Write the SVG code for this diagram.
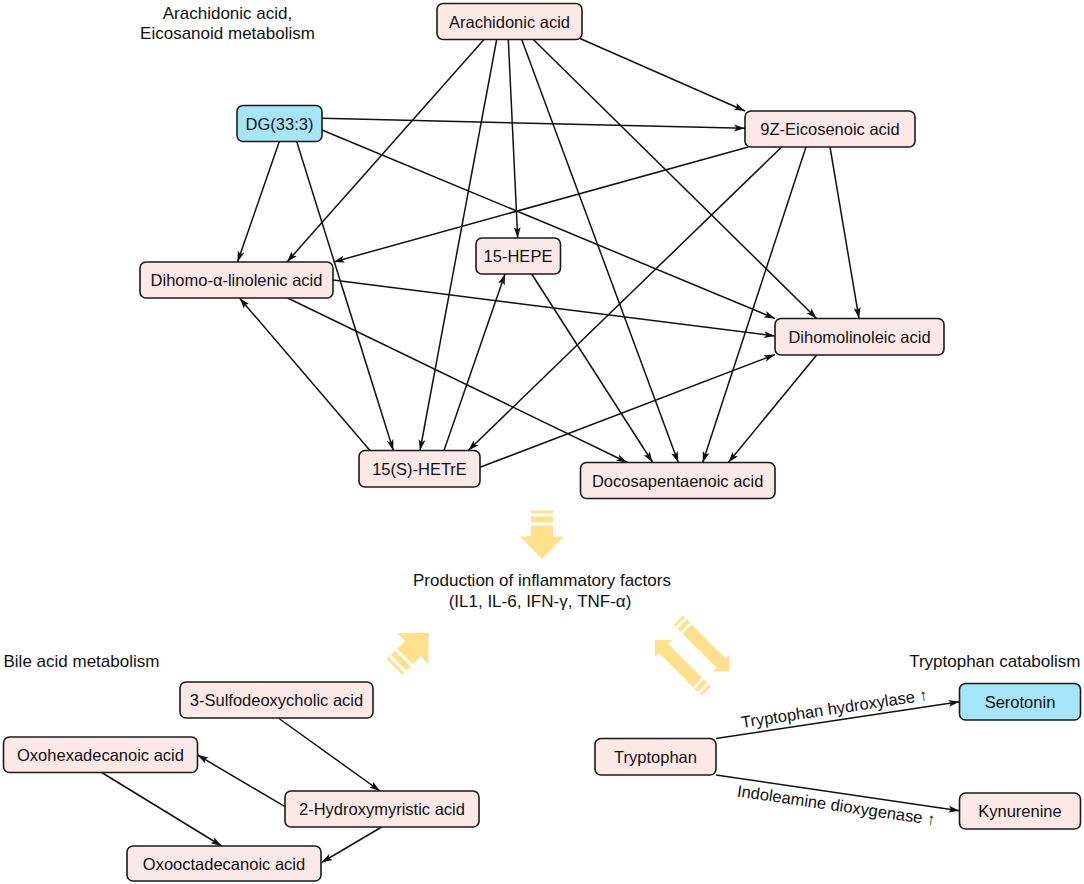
<svg xmlns="http://www.w3.org/2000/svg" width="1084" height="884" viewBox="0 0 1084 884">
<style>
.node rect{stroke:#1a1a1a;stroke-width:1.6}
.pink rect{fill:#FDE8E8}
.blue rect{fill:#A6E4F7}
text{font-family:"Liberation Sans",Arial,sans-serif;fill:#111}
.lbl{font-size:16.5px;text-anchor:middle}
.ttl{font-size:17px}
.edges line{stroke:#111;stroke-width:1.5;marker-end:url(#ah)}
.ya{fill:#FFE08C}
</style>
<defs>
<marker id="ah" viewBox="0 0 11 8" refX="11" refY="4" markerWidth="11" markerHeight="8" markerUnits="userSpaceOnUse" orient="auto">
<path d="M0,0.5 L11,4 L0,7.5 L2.5,4 z" fill="#111"/>
</marker>
<g id="bigArrow">
<polygon points="-22,-22.5 22,-22.5 0,0"/>
<rect x="-11" y="-33.5" width="22" height="11.5"/>
<rect x="-11" y="-42.5" width="22" height="6"/>
<rect x="-11" y="-48.5" width="22" height="3"/>
</g>
<g id="smallArrow">
<polygon points="-12,-12 12,-12 0,0"/>
<rect x="-6.5" y="-60" width="13" height="48.5"/>
<rect x="-6.5" y="-67" width="13" height="4.5"/>
<rect x="-6.5" y="-72.5" width="13" height="2.8"/>
</g>
</defs>
<rect width="1084" height="884" fill="#fff"/>

<g id="titles">
<text class="ttl" x="227.5" y="18.5" text-anchor="middle">Arachidonic acid,</text>
<text class="ttl" x="227.5" y="38.5" text-anchor="middle">Eicosanoid metabolism</text>
<text class="ttl" x="542" y="586" text-anchor="middle">Production of inflammatory factors</text>
<text class="ttl" x="540" y="606.5" text-anchor="middle">(IL1, IL-6, IFN-γ, TNF-α)</text>
<text class="ttl" x="3.5" y="666.5">Bile acid metabolism</text>
<text class="ttl" x="1080.5" y="666.5" text-anchor="end">Tryptophan catabolism</text>
</g>

<g id="yellow-arrows" class="ya">
<use href="#bigArrow" transform="translate(542,559)"/>
<use href="#bigArrow" transform="translate(428.7,632.7) rotate(-135)"/>
<use href="#smallArrow" transform="translate(729.5,671.5) rotate(-45)"/>
<use href="#smallArrow" transform="translate(655,640) rotate(135)"/>
</g>

<g id="connectors" class="edges">
<line x1="580" y1="38.5" x2="745" y2="111"/>
<line x1="484" y1="39.5" x2="287" y2="262"/>
<line x1="496.7" y1="39.5" x2="420" y2="450.5"/>
<line x1="508.3" y1="39.5" x2="517.7" y2="238"/>
<line x1="521.7" y1="39.5" x2="678.3" y2="462.5"/>
<line x1="533.3" y1="39.5" x2="816.7" y2="318.5"/>
<line x1="322" y1="118.3" x2="745" y2="128.3"/>
<line x1="322" y1="130" x2="775" y2="318.5"/>
<line x1="279.3" y1="141.5" x2="237.5" y2="262"/>
<line x1="296.7" y1="141.5" x2="393.3" y2="450.5"/>
<line x1="748.3" y1="147" x2="333.5" y2="262"/>
<line x1="781.7" y1="147" x2="468.3" y2="450.5"/>
<line x1="806" y1="147" x2="702.7" y2="462.5"/>
<line x1="830" y1="147" x2="859" y2="318.5"/>
<line x1="333" y1="280" x2="775" y2="336"/>
<line x1="287.6" y1="298" x2="627.3" y2="462.5"/>
<line x1="531.7" y1="274" x2="652.7" y2="462.5"/>
<line x1="370" y1="450.5" x2="239.5" y2="298"/>
<line x1="444" y1="450.5" x2="505" y2="274"/>
<line x1="480" y1="467.3" x2="775" y2="354.5"/>
<line x1="816.7" y1="355" x2="728.3" y2="462.5"/>
<line x1="278.3" y1="718" x2="380" y2="791"/>
<line x1="285" y1="806.7" x2="197.5" y2="755"/>
<line x1="101.7" y1="772.5" x2="221.7" y2="846"/>
<line x1="381.7" y1="827" x2="321.5" y2="862.5"/>
<line x1="716" y1="738.5" x2="959.5" y2="701.7"/>
<line x1="716" y1="775" x2="959.5" y2="810.7"/>
</g>

<g id="edge-labels">
<text class="lbl" transform="translate(836,720) rotate(-8.5)" x="0" y="-6">Tryptophan hydroxylase ↑</text>
<text class="lbl" transform="translate(838,793) rotate(8.3)" x="0" y="18">Indoleamine dioxygenase ↑</text>
</g>

<g id="n-arachidonic" class="node pink"><rect x="437" y="3.5" width="145" height="36" rx="6"/><text class="lbl" x="509.5" y="27.5">Arachidonic acid</text></g>
<g id="n-dg" class="node blue"><rect x="237" y="105.5" width="85" height="36" rx="6"/><text class="lbl" x="279.5" y="129.5">DG(33:3)</text></g>
<g id="n-eicosenoic" class="node pink"><rect x="745" y="111" width="170" height="36" rx="6"/><text class="lbl" x="830" y="135">9Z-Eicosenoic acid</text></g>
<g id="n-dihomo-alpha" class="node pink"><rect x="140" y="262" width="193" height="36" rx="6"/><text class="lbl" x="236.5" y="286">Dihomo-α-linolenic acid</text></g>
<g id="n-hepe" class="node pink"><rect x="476" y="238" width="84.5" height="36" rx="6"/><text class="lbl" x="518" y="262">15-HEPE</text></g>
<g id="n-dihomolinoleic" class="node pink"><rect x="775" y="318.5" width="169" height="36.5" rx="6"/><text class="lbl" x="859.5" y="342.5">Dihomolinoleic acid</text></g>
<g id="n-hetre" class="node pink"><rect x="359" y="450.5" width="121" height="36.5" rx="6"/><text class="lbl" x="419.5" y="474.5">15(S)-HETrE</text></g>
<g id="n-docosa" class="node pink"><rect x="580.5" y="462.5" width="194.5" height="36" rx="6"/><text class="lbl" x="677.7" y="486.5">Docosapentaenoic acid</text></g>
<g id="n-sulfo" class="node pink"><rect x="180" y="682" width="193" height="36" rx="6"/><text class="lbl" x="276.5" y="706">3-Sulfodeoxycholic acid</text></g>
<g id="n-oxohexa" class="node pink"><rect x="3.5" y="737" width="194" height="35.5" rx="6"/><text class="lbl" x="100.5" y="760.5">Oxohexadecanoic acid</text></g>
<g id="n-hydroxy" class="node pink"><rect x="285" y="791" width="194" height="36" rx="6"/><text class="lbl" x="382" y="815">2-Hydroxymyristic acid</text></g>
<g id="n-oxoocta" class="node pink"><rect x="127" y="846" width="194" height="35" rx="6"/><text class="lbl" x="224" y="869.5">Oxooctadecanoic acid</text></g>
<g id="n-trp" class="node pink"><rect x="595" y="738.5" width="121" height="36.5" rx="6"/><text class="lbl" x="655.5" y="762.5">Tryptophan</text></g>
<g id="n-serotonin" class="node blue"><rect x="959.5" y="683.5" width="121" height="36.5" rx="6"/><text class="lbl" x="1020" y="707.5">Serotonin</text></g>
<g id="n-kyn" class="node pink"><rect x="959.5" y="793" width="121" height="36" rx="6"/><text class="lbl" x="1020" y="817">Kynurenine</text></g>
</svg>
